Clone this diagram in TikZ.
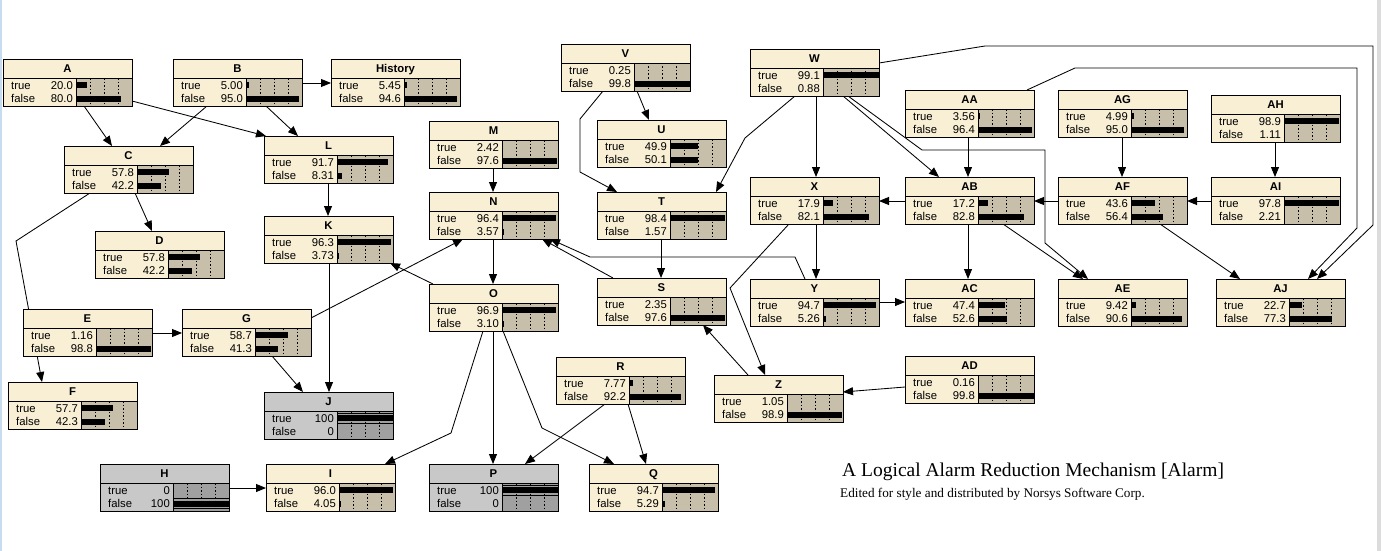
\documentclass[tikz,border=0pt]{standalone}
\usepackage{fontspec}
\setmainfont{Liberation Sans}
\newfontfamily\serifT{Liberation Serif}
\usetikzlibrary{arrows.meta}
\pgfdeclarelayer{bg}
\pgfsetlayers{bg,main}
\definecolor{cream}{RGB}{248,239,213}
\definecolor{tanb}{RGB}{199,191,170}
\definecolor{evg}{RGB}{200,200,200}
\definecolor{evd}{RGB}{160,160,160}
\definecolor{winblue}{RGB}{200,220,240}
\definecolor{wingray}{RGB}{220,220,220}
\tikzset{
 arr/.style={draw=black, line width=0.85pt, -{Triangle[length=10pt,width=8pt]}},
 dotl/.style={line width=0.75pt, dash pattern=on 1.5pt off 2pt},
 lbl/.style={inner sep=0pt, font=\fontsize{11.3}{13}\selectfont},
 ttl/.style={inner sep=0pt, font=\fontsize{11.3}{13}\selectfont\bfseries},
 bbox/.style={draw, line width=1pt, minimum width=129pt, minimum height=47pt, anchor=north west, inner sep=0pt},
}
\newcommand\bn[8]{%
 \begin{scope}[shift={(#2,#3)}]
 \fill[#7] (0,0) rectangle (129,47);
 \fill[#8] (73,19) rectangle (129,47);
 \foreach \q in {87,101,115} \draw[dotl] (\q,19) -- (\q,47);
 \fill (73,23) rectangle ({73+0.56*#5},29);
 \fill (73,36.5) rectangle ({73+0.56*#6},42.5);
 \draw[line width=0.9pt] (0,19) -- (129,19) (73,19) -- (73,47);
 \node[bbox] (#1) at (0,0) {};
 \node[ttl, anchor=base] at (64.5,13.8) {#4};
 \node[lbl, anchor=base west] at (8,30.2) {true};
 \node[lbl, anchor=base west] at (8,43.7) {false};
 \node[lbl, anchor=base east] at (70,30.2) {#5};
 \node[lbl, anchor=base east] at (70,43.7) {#6};
 \end{scope}}
\newcommand\ev[2]{%
 \draw[line width=0.7pt] ([shift={(73,#2-5)}]#1.north west) -- ([shift={(129,#2-5)}]#1.north west);
 \draw[line width=0.7pt] ([shift={(73,#2+5)}]#1.north west) -- ([shift={(129,#2+5)}]#1.north west);}
\begin{document}
\begin{tikzpicture}[x=1pt,y=-1pt]
\useasboundingbox (0,0) rectangle (1381,551);

\bn{A}{3}{59}{A}{20.0}{80.0}{cream}{tanb}
\bn{B}{173}{59}{B}{5.00}{95.0}{cream}{tanb}
\bn{Hist}{331}{59}{History}{5.45}{94.6}{cream}{tanb}
\bn{C}{64}{146}{C}{57.8}{42.2}{cream}{tanb}
\bn{L}{264}{136}{L}{91.7}{8.31}{cream}{tanb}
\bn{D}{95}{231}{D}{57.8}{42.2}{cream}{tanb}
\bn{K}{264}{216}{K}{96.3}{3.73}{cream}{tanb}
\bn{E}{23}{309}{E}{1.16}{98.8}{cream}{tanb}
\bn{G}{182}{309}{G}{58.7}{41.3}{cream}{tanb}
\bn{F}{8}{382}{F}{57.7}{42.3}{cream}{tanb}
\bn{J}{264}{392}{J}{100}{0}{evg}{evd}
\bn{H}{100}{464}{H}{0}{100}{evg}{evd}
\bn{I}{266}{464}{I}{96.0}{4.05}{cream}{tanb}
\bn{M}{429}{121}{M}{2.42}{97.6}{cream}{tanb}
\bn{N}{429}{192}{N}{96.4}{3.57}{cream}{tanb}
\bn{O}{429}{284}{O}{96.9}{3.10}{cream}{tanb}
\bn{P}{429}{464}{P}{100}{0}{evg}{evd}
\bn{R}{556}{357}{R}{7.77}{92.2}{cream}{tanb}
\bn{Q}{589}{464}{Q}{94.7}{5.29}{cream}{tanb}
\bn{V}{561}{44}{V}{0.25}{99.8}{cream}{tanb}
\bn{U}{597}{120}{U}{49.9}{50.1}{cream}{tanb}
\bn{T}{597}{192}{T}{98.4}{1.57}{cream}{tanb}
\bn{S}{597}{278}{S}{2.35}{97.6}{cream}{tanb}
\bn{W}{750}{49}{W}{99.1}{0.88}{cream}{tanb}
\bn{AA}{905}{90}{AA}{3.56}{96.4}{cream}{tanb}
\bn{AG}{1058}{90}{AG}{4.99}{95.0}{cream}{tanb}
\bn{AH}{1211}{95}{AH}{98.9}{1.11}{cream}{tanb}
\bn{X}{750}{177}{X}{17.9}{82.1}{cream}{tanb}
\bn{AB}{905}{177}{AB}{17.2}{82.8}{cream}{tanb}
\bn{AF}{1058}{177}{AF}{43.6}{56.4}{cream}{tanb}
\bn{AI}{1211}{177}{AI}{97.8}{2.21}{cream}{tanb}
\bn{Y}{750}{279}{Y}{94.7}{5.26}{cream}{tanb}
\bn{AC}{905}{279}{AC}{47.4}{52.6}{cream}{tanb}
\bn{AE}{1058}{279}{AE}{9.42}{90.6}{cream}{tanb}
\bn{AJ}{1216}{279}{AJ}{22.7}{77.3}{cream}{tanb}
\bn{AD}{905}{356}{AD}{0.16}{99.8}{cream}{tanb}
\bn{Z}{714}{375}{Z}{1.05}{98.9}{cream}{tanb}
\ev{J}{26}
\ev{P}{26}
\ev{H}{39.5}

\begin{pgfonlayer}{bg}
\fill[white] (0,0) rectangle (1381,551);
\fill[winblue] (0,0) rectangle (2,551);
\fill[wingray] (1377,0) rectangle (1381,551);
% connectors
\draw[arr] ([shift={(81,47)}]A.north west) -- ([shift={(48,0)}]C.north west);
\draw[arr] ([shift={(129,42)}]A.north west) -- ([shift={(2,0)}]L.north west);
\draw[arr] ([shift={(34,47)}]B.north west) -- ([shift={(96,0)}]C.north west);
\draw[arr] ([shift={(93,47)}]B.north west) -- ([shift={(34,0)}]L.north west);
\draw[arr] ([shift={(129,24)}]B.north west) -- ([shift={(0,24)}]Hist.north west);
\draw[arr] ([shift={(71,47)}]C.north west) -- ([shift={(57,0)}]D.north west);
\draw[arr] ([shift={(26,47)}]C.north west) -- (16,241) -- ([shift={(34,0)}]F.north west);
\draw[arr] ([shift={(64,47)}]L.north west) -- ([shift={(64,0)}]K.north west);
\draw[arr] ([shift={(65,47)}]K.north west) -- ([shift={(65,0)}]J.north west);
\draw[arr] ([shift={(90,47)}]G.north west) -- ([shift={(39,0)}]J.north west);
\draw[arr] ([shift={(129,24)}]E.north west) -- ([shift={(0,24)}]G.north west);
\draw[arr] ([shift={(129,9)}]G.north west) -- ([shift={(34,47)}]N.north west);
\draw[arr] ([shift={(4,0)}]O.north west) -- ([shift={(126,47)}]K.north west);
\draw[arr] ([shift={(64,47)}]M.north west) -- ([shift={(64,0)}]N.north west);
\draw[arr] ([shift={(64,47)}]N.north west) -- ([shift={(64,0)}]O.north west);
\draw[arr] ([shift={(54,47)}]O.north west) -- (451,433) -- ([shift={(119,0)}]I.north west);
\draw[arr] ([shift={(64,47)}]O.north west) -- ([shift={(64,0)}]P.north west);
\draw[arr] ([shift={(74,47)}]O.north west) -- (542,428) -- ([shift={(25,0)}]Q.north west);
\draw[arr] ([shift={(49,47)}]R.north west) -- ([shift={(96,0)}]P.north west);
\draw[arr] ([shift={(72,47)}]R.north west) -- ([shift={(57,0)}]Q.north west);
\draw[arr] ([shift={(76,47)}]V.north west) -- ([shift={(52,0)}]U.north west);
\draw[arr] ([shift={(42,47)}]V.north west) -- (580,119) -- (580,172) -- ([shift={(20,0)}]T.north west);
\draw[arr] ([shift={(45,47)}]W.north west) -- (745,138) -- ([shift={(119,0)}]T.north west);
\draw[arr] ([shift={(66,47)}]W.north west) -- ([shift={(66,0)}]X.north west);
\draw[arr] ([shift={(93,47)}]W.north west) -- ([shift={(34,0)}]AB.north west);
\draw[arr] ([shift={(98,47)}]W.north west) -- (922,150) -- (1045,150) -- (1045,243) -- ([shift={(30,0)}]AE.north west);
\draw[arr] ([shift={(129,14)}]W.north west) -- (985,46) -- (1373,46) -- (1373,225) -- ([shift={(101,0)}]AJ.north west);
\draw[arr] ([shift={(122,0)}]AA.north west) -- (1075,68) -- (1357,68) -- (1357,228) -- ([shift={(92,0)}]AJ.north west);
\draw[arr] ([shift={(63,47)}]AA.north west) -- ([shift={(63,0)}]AB.north west);
\draw[arr] ([shift={(64,47)}]AG.north west) -- ([shift={(64,0)}]AF.north west);
\draw[arr] ([shift={(64,47)}]AH.north west) -- ([shift={(64,0)}]AI.north west);
\draw[arr] ([shift={(0,24)}]AI.north west) -- ([shift={(129,24)}]AF.north west);
\draw[arr] ([shift={(0,24)}]AF.north west) -- ([shift={(129,24)}]AB.north west);
\draw[arr] ([shift={(0,24)}]AB.north west) -- ([shift={(129,24)}]X.north west);
\draw[arr] ([shift={(63,47)}]AB.north west) -- ([shift={(63,0)}]AC.north west);
\draw[arr] ([shift={(98,47)}]AB.north west) -- ([shift={(25,0)}]AE.north west);
\draw[arr] ([shift={(102,47)}]AF.north west) -- ([shift={(24,0)}]AJ.north west);
\draw[arr] ([shift={(66,47)}]X.north west) -- ([shift={(66,0)}]Y.north west);
\draw[arr] ([shift={(39,47)}]X.north west) -- (730,288) -- ([shift={(51,0)}]Z.north west);
\draw[arr] ([shift={(34,0)}]Z.north west) -- ([shift={(106,47)}]S.north west);
\draw[arr] ([shift={(55,0)}]Y.north west) -- (795,257) -- (590,257) -- ([shift={(121,47)}]N.north west);
\draw[arr] ([shift={(16,0)}]S.north west) -- ([shift={(113,47)}]N.north west);
\draw[arr] ([shift={(129,23)}]Y.north west) -- ([shift={(0,23)}]AC.north west);
\draw[arr] ([shift={(0,31)}]AD.north west) -- ([shift={(129,17)}]Z.north west);
\draw[arr] ([shift={(129,24)}]H.north west) -- ([shift={(0,24)}]I.north west);
\draw[arr] ([shift={(64,47)}]T.north west) -- ([shift={(64,0)}]S.north west);
\end{pgfonlayer}

\node[anchor=base west, inner sep=0pt, font=\serifT\fontsize{19.5}{22}\selectfont] (title) at (842,476) {A Logical Alarm Reduction Mechanism [Alarm]};
\node[anchor=base west, inner sep=0pt, font=\serifT\fontsize{13.2}{15}\selectfont] (subtitle) at (840,497) {Edited for style and distributed by Norsys Software Corp.};
\end{tikzpicture}
\end{document}
